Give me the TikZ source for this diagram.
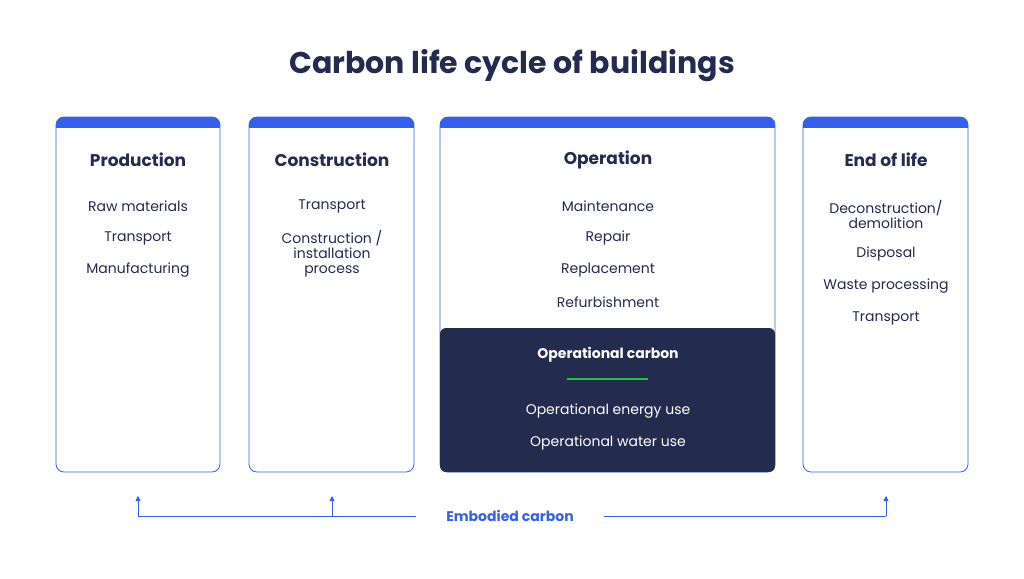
\documentclass[tikz,border=0pt]{standalone}
\usepackage{fontspec}
\setmainfont{Poppins}
\usetikzlibrary{arrows.meta}
\definecolor{navy}{HTML}{232B4F}
\definecolor{bl}{HTML}{3461EB}
\definecolor{gr}{HTML}{22C43A}
\begin{document}
\begin{tikzpicture}[x=1pt,y=-1pt,
  head/.style={font=\fontsize{17}{20}\selectfont\bfseries, text=navy},
  item/.style={font=\fontsize{14}{15}\selectfont, text=navy, align=center},
  witem/.style={font=\fontsize{14}{15}\selectfont, text=white, align=center},
  arr/.style={bl, line width=0.8pt, -{Triangle[length=5pt,width=5pt]}}]
\useasboundingbox (0,0) rectangle (1024,578);
\fill[white] (0,0) rectangle (1024,578);
\node[font=\fontsize{30}{34}\selectfont\bfseries, text=navy] (title) at (512,66) {Carbon life cycle of buildings};
\foreach \n/\a/\b in {p/56/220,c/249/414,o/440/775,e/803/968}{
  \begin{scope}
  \clip[rounded corners=8pt] (\a,117) rectangle (\b,472);
  \fill[bl] (\a,117) rectangle (\b,128);
  \end{scope}
  \draw[bl, line width=0.8pt, rounded corners=8pt] (\a,117) rectangle (\b,472);
  \coordinate (\n) at ({(\a+\b)/2},0);
}
\fill[navy, rounded corners=6pt] (440,328) rectangle (775,472);
\node[head] (hp) at (138,160) {Production};
\node[item] (p1) at (138,206) {Raw materials};
\node[item] (p2) at (138,238) {Transport};
\node[item] (p3) at (138,270) {Manufacturing};
\node[head] (hc) at (332,160) {Construction};
\node[item] (c1) at (332,206) {Transport};
\node[item] (c2) at (332,254) {Construction /\\installation\\process};
\node[head] (ho) at (608,160) {Operation};
\node[item] (o1) at (608,206) {Maintenance};
\node[item] (o2) at (608,238) {Repair};
\node[item] (o3) at (608,270) {Replacement};
\node[item] (o4) at (608,302) {Refurbishment};
\node[font=\fontsize{14}{15}\selectfont\bfseries, text=white] (oc) at (608,355) {Operational carbon};
\draw[gr, line width=2.5pt] (567,379) -- (648,379);
\node[witem] (w1) at (608,411) {Operational energy use};
\node[witem] (w2) at (608,443) {Operational water use};
\node[head] (he) at (886,160) {End of life};
\node[item] (e1) at (886,214) {Deconstruction/\\demolition};
\node[item] (e2) at (886,254) {Disposal};
\node[item] (e3) at (886,286) {Waste processing};
\node[item] (e4) at (886,318) {Transport};
\node[font=\fontsize{14}{15}\selectfont\bfseries, text=bl] (emb) at (510,516) {Embodied carbon};
\coordinate (l) at (416,516);
\coordinate (r) at (604,516);
\coordinate (a1) at (138,516);
\coordinate (a2) at (332,516);
\coordinate (a3) at (886,516);
\draw[bl, line width=0.8pt] (a1) -- (l);
\draw[bl, line width=0.8pt] (r) -- (a3);
\draw[arr] (a1) -- ++(0,-20);
\draw[arr] (a2) -- ++(0,-20);
\draw[arr] (a3) -- ++(0,-20);
\end{tikzpicture}
\end{document}
